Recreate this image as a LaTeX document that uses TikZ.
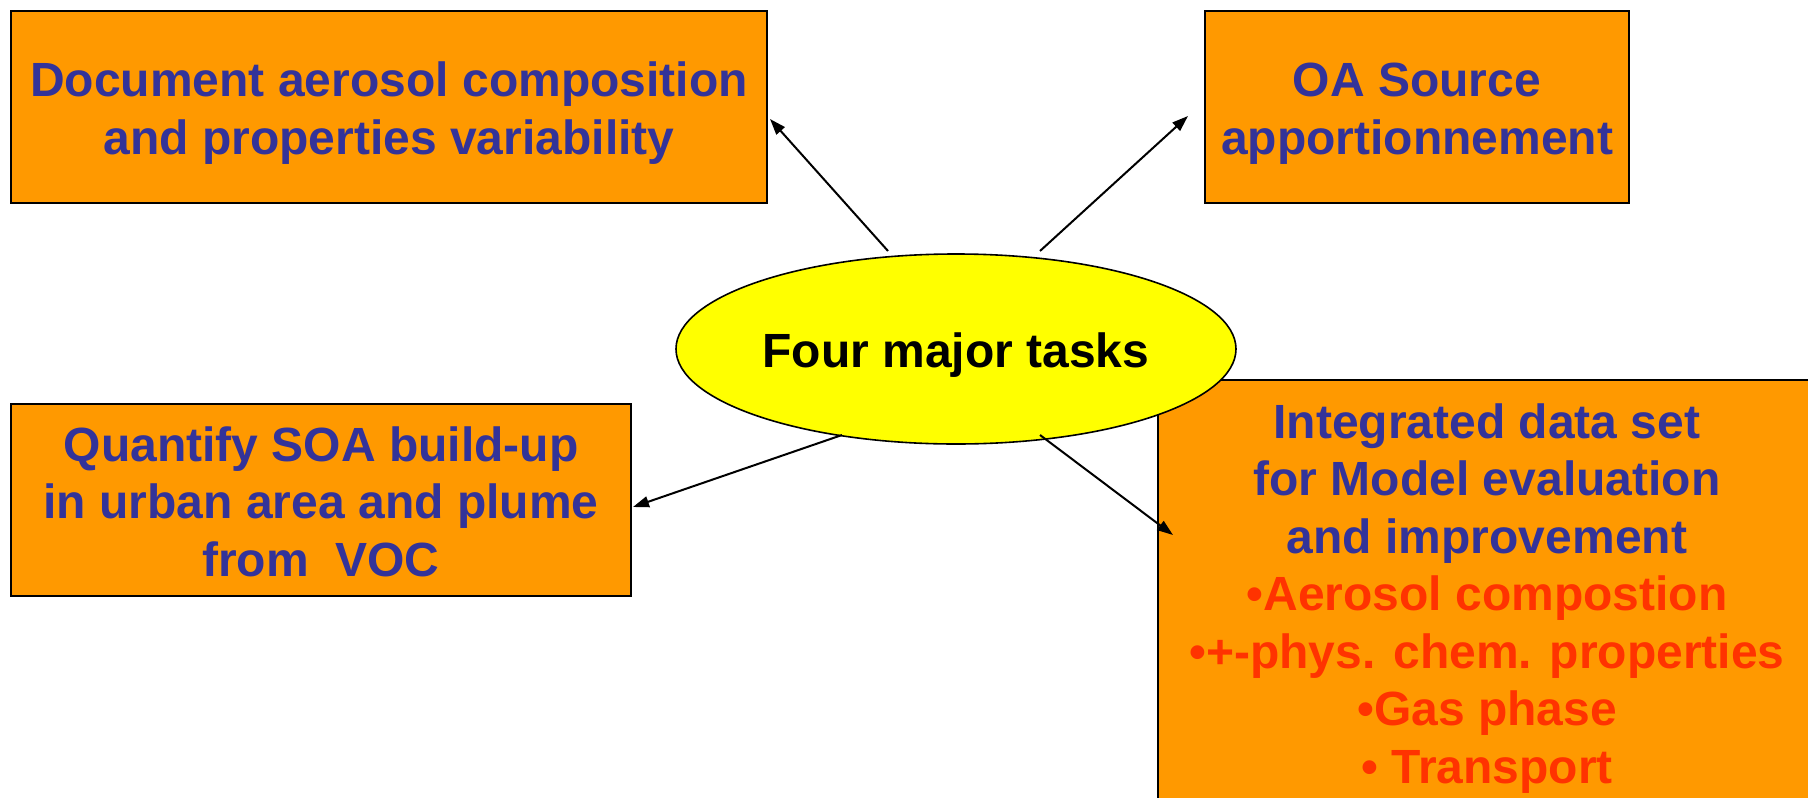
\documentclass[tikz,border=0pt]{standalone}
\usepackage{fontspec}
\setmainfont{Liberation Sans}
\usetikzlibrary{arrows.meta,shapes.geometric}
\definecolor{boxorange}{HTML}{FF9900}
\definecolor{txtblue}{HTML}{333399}
\definecolor{txtred}{HTML}{FF3300}
\definecolor{ellyellow}{HTML}{FFFF00}
\newcommand\lwr[2]{\raisebox{-#1}[\height][\depth]{\begin{tabular}{@{}c@{}}#2\end{tabular}}}
\tikzset{
  taskbox/.style={draw=black, line width=2pt, fill=boxorange, text=txtblue,
    font=\fontsize{48}{57.5}\selectfont\bfseries, inner sep=0pt},
  hub/.style={draw=black, line width=1.6pt, fill=ellyellow, ellipse, inner sep=0pt,
    font=\fontsize{48}{57.5}\selectfont\bfseries},
  arr/.style={line width=2pt, -{Triangle[length=16pt,width=11pt]}}
}
\begin{document}
\begin{tikzpicture}[x=1pt,y=-1pt]
\useasboundingbox (0,0) rectangle (1808,798);
\clip (0,0) rectangle (1808,798);
\fill[white] (0,0) rectangle (1808,798);
\node[taskbox, minimum width=756pt, minimum height=192pt] (b1) at (389,107)
  {\lwr{7pt}{Document aerosol composition\\and properties variability}};
\node[taskbox, minimum width=424pt, minimum height=192pt] (b2) at (1417,107)
  {\lwr{7pt}{OA Source\\apportionnement}};
\node[taskbox, minimum width=620pt, minimum height=192pt] (b3) at (321,500)
  {\lwr{7pt}{Quantify SOA build-up\\in urban area and plume\\from\ \ VOC}};
\node[taskbox, minimum width=658pt, minimum height=426pt] (b4) at (1487,593)
  {\lwr{6pt}{Integrated data set\\for Model evaluation\\and improvement\\
   \textcolor{txtred}{•Aerosol compostion}\\
   \textcolor{txtred}{•+-phys. chem. properties}\\
   \textcolor{txtred}{•Gas phase}\\
   \textcolor{txtred}{• Transport}}};
\node[hub, minimum width=560pt, minimum height=190pt] (hub) at (956,349)
  {\raisebox{-6pt}[\height][\depth]{Four major tasks}};
\coordinate (s1) at (888,251);
\coordinate (s2) at (1040,251);
\coordinate (s3) at (842,435);
\coordinate (s4) at (1040,435);
\draw[arr] (s1) -- ([yshift=-12pt,xshift=2pt]b1.east);
\draw[arr] (s2) -- ([xshift=-16pt,yshift=-9pt]b2.west);
\draw[arr] (s3) -- ([yshift=-7pt,xshift=1pt]b3.east);
\draw[arr] (s4) -- ([xshift=16pt,yshift=58pt]b4.west);
\end{tikzpicture}
\end{document}
